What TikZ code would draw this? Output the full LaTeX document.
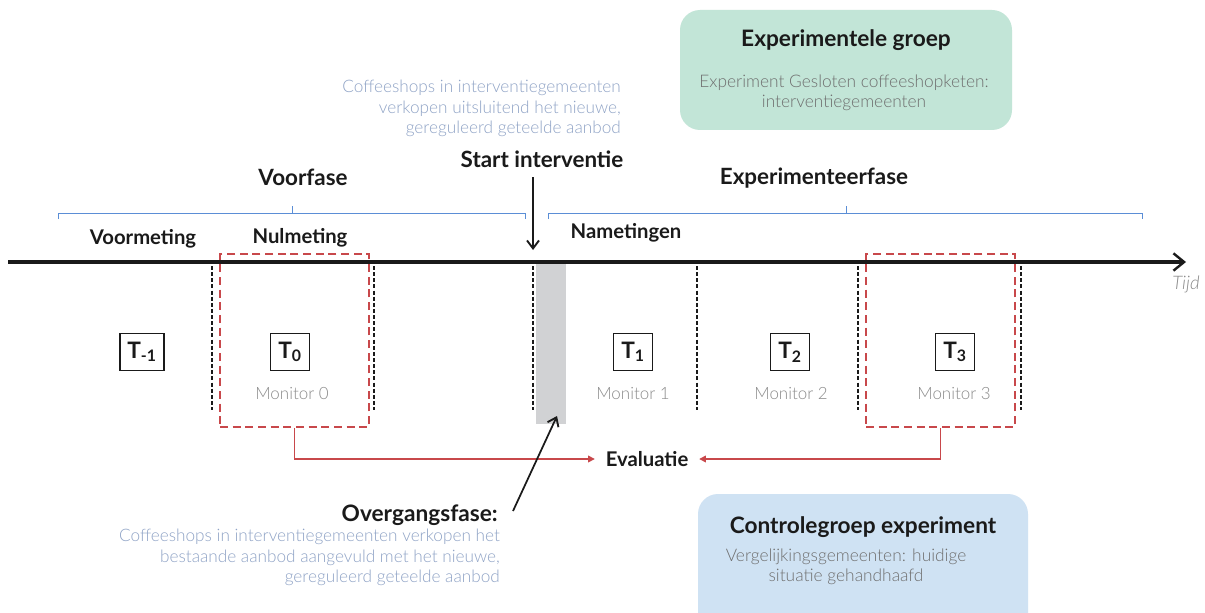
\documentclass[tikz,border=0pt]{standalone}
\usepackage{fontspec}
\setmainfont{Lato}
\newfontfamily\lightf{Lato Light}
\usetikzlibrary{arrows.meta}
\definecolor{txtblue}{HTML}{8FA3C6}
\definecolor{braceblue}{HTML}{5B8ED6}
\definecolor{redc}{HTML}{C8484B}
\definecolor{greenbg}{HTML}{C2E5D7}
\definecolor{bluebg}{HTML}{CFE2F3}
\definecolor{greybar}{HTML}{D1D2D4}
\definecolor{greytxt}{HTML}{8A8A8A}
\definecolor{boxtxt}{HTML}{6F6F6F}
\definecolor{dark}{HTML}{1A1A1A}
\tikzset{
  head/.style={font=\bfseries\fontsize{15.2}{18}\selectfont, text=dark, inner sep=0pt},
  phase/.style={font=\bfseries\fontsize{16.8}{20}\selectfont, text=dark, inner sep=0pt},
  bighead/.style={font=\bfseries\fontsize{17}{20}\selectfont, text=dark, inner sep=0pt},
  note/.style={font=\lightf\fontsize{12.9}{15.4}\selectfont, text=txtblue, inner sep=0pt},
  mon/.style={font=\lightf\fontsize{12.7}{15}\selectfont, text=greytxt, inner sep=0pt},
  boxt/.style={font=\lightf\fontsize{13}{15}\selectfont, text=boxtxt, inner sep=0pt, align=center},
  tbox/.style={draw=dark, line width=0.8pt, font=\bfseries\fontsize{17}{20}\selectfont, text=dark, minimum height=27.5pt, inner xsep=5.5pt},
  reddash/.style={draw=redc, line width=1.4pt, dash pattern=on 6pt off 3.5pt, minimum width=111.75pt, minimum height=129.75pt, inner sep=0pt},
  blkdash/.style={draw=dark, line width=0.8pt, dash pattern=on 3pt off 1.6pt},
  brace/.style={draw=braceblue, line width=0.6pt},
  redline/.style={draw=redc, line width=1pt, -{Triangle[length=5pt,width=5pt]}},
  blkarrow/.style={draw=dark, line width=1.6pt, -{Straight Barb[length=6pt,width=9pt,line width=1.4pt]}},
}
\begin{document}
\begin{tikzpicture}[x=0.75pt,y=-0.75pt]
\useasboundingbox (0,0) rectangle (1205,613);
\fill[white] (0,0) rectangle (1205,613);

% group boxes
\node[fill=greenbg, rounded corners=15pt, minimum width=249pt, minimum height=90pt] (expbox) at (846,70) {};
\node[bighead] (exptitle) at (846,40) {Experimentele groep};
\node[boxt] (exptext) at (844,93) {Experiment Gesloten coffeeshopketen:\\interventiegemeenten};
\fill[bluebg, rounded corners=15pt] (698,494) rectangle (1028,650);
\node[bighead] (ctitle) at (863,527) {Controlegroep experiment};
\node[boxt] (ctext) at (846,567) {Vergelijkingsgemeenten: huidige\\situatie gehandhaafd};

% grey transition bar
\fill[greybar] (536,262) rectangle (566,424);

% dashed separators
\foreach \xx/\nm in {212/a,374/b,533/c,697/d,858/e,1021/f}{
  \coordinate (\nm top) at (\xx,266);
  \coordinate (\nm bot) at (\xx,410);
  \draw[blkdash] (\nm top) -- (\nm bot);
}

% red dashed frames
\node[reddash] (r0) at (294.5,340.5) {};
\node[reddash] (r3) at (940.5,340.5) {};

% timeline
\coordinate (tl0) at (8,262);
\coordinate (tl1) at (1186,262);
\draw[draw=dark, line width=2.4pt, -{Straight Barb[length=8pt,width=13pt,line width=1.8pt]}] (tl0) -- (tl1);
\node[font=\lightf\itshape\fontsize{14}{16}\selectfont, text=greytxt, inner sep=0pt] (tijd) at (1186,284) {Tijd};

% braces
\coordinate (v1) at (58,219); \coordinate (v2) at (58,213); \coordinate (v3) at (525,213); \coordinate (v4) at (525,219);
\draw[brace] (v1) -- (v2) -- (v3) -- (v4);
\coordinate (vt1) at (292,213); \coordinate (vt2) at (292,206);
\draw[brace] (vt1) -- (vt2);
\coordinate (e1) at (548,219); \coordinate (e2) at (548,213); \coordinate (e3) at (1142,213); \coordinate (e4) at (1142,219);
\draw[brace] (e1) -- (e2) -- (e3) -- (e4);
\coordinate (et1) at (846,213); \coordinate (et2) at (846,206);
\draw[brace] (et1) -- (et2);

% phase headings
\node[phase] (voorfase) at (303,177) {Voorfase};
\node[phase] (expfase) at (814,178) {Experimenteerfase};
\node[head] (voorm) at (143,239) {Voormeting};
\node[head] (nulm) at (300,238) {Nulmeting};
\node[head] (nam) at (626,233) {Nametingen};

% start interventie
\node[note, align=right, anchor=north east] (startnote) at (621,80) {Coffeeshops in interventiegemeenten\\verkopen uitsluitend het nieuwe,\\gereguleerd geteelde aanbod};
\node[phase] (start) at (542,159) {Start interventie};
\coordinate (sitop) at (533,177);
\coordinate (sibot) at (533,250);
\draw[blkarrow] (sitop) -- (sibot);

% T boxes
\node[tbox] (tm1) at (142,352) {T\textsubscript{-1}};
\node[tbox] (t0) at (290,352) {T\textsubscript{0}};
\node[tbox] (t1) at (633,352) {T\textsubscript{1}};
\node[tbox] (t2) at (790,352) {T\textsubscript{2}};
\node[tbox] (t3) at (955,352) {T\textsubscript{3}};

\node[mon] (m0) at (292,394) {Monitor 0};
\node[mon] (m1) at (633,394) {Monitor 1};
\node[mon] (m2) at (791,394) {Monitor 2};
\node[mon] (m3) at (954,394) {Monitor 3};

% evaluatie
\node[head, inner xsep=8pt] (eval) at (647,459) {Evaluatie};
\draw[redline] (r0.south) |- (eval.west);
\draw[redline] (r3.south) |- (eval.east);

% overgangsfase
\node[bighead, anchor=east] (overg) at (498,515) {Overgangsfase:};
\node[note, align=right, anchor=north east] (overgnote) at (500,529) {Coffeeshops in interventiegemeenten verkopen het\\bestaande aanbod aangevuld met het nieuwe,\\gereguleerd geteelde aanbod};
\coordinate (oa) at (513,511);
\coordinate (ob) at (557,416);
\draw[blkarrow, line width=1.3pt] (oa) -- (ob);
\end{tikzpicture}
\end{document}
